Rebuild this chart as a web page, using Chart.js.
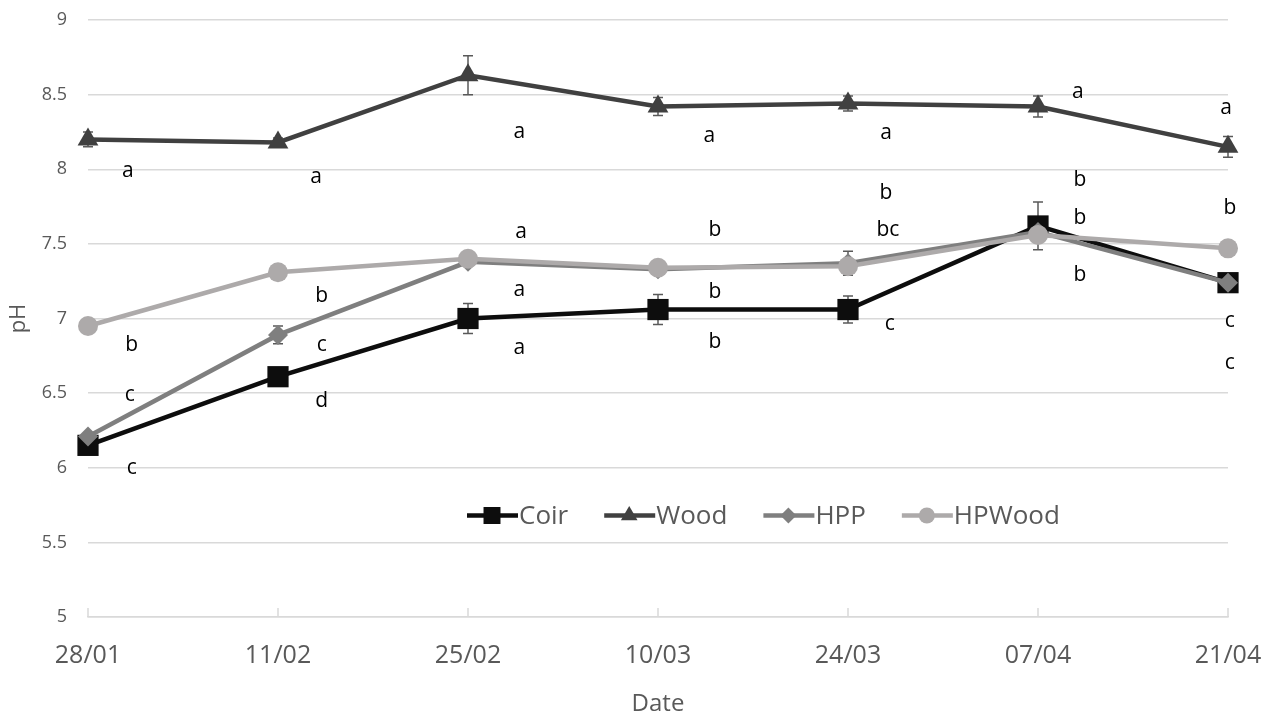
<!DOCTYPE html>
<html>
<head>
<meta charset="utf-8">
<script src="https://cdn.jsdelivr.net/npm/chart.js@4"></script>
<style>
  html, body { margin: 0; padding: 0; background: #fff; }
  #wrap { width: 1277px; height: 712px; }
</style>
</head>
<body>
<div id="wrap"><canvas id="phChart" width="1277" height="712"></canvas></div>
<script>
const fechas = ["28/01", "11/02", "25/02", "10/03", "24/03", "07/04", "21/04"];

const coir   = [6.15, 6.61, 7.00, 7.06, 7.06, 7.62, 7.24];
const wood   = [8.20, 8.18, 8.63, 8.42, 8.44, 8.42, 8.15];
const hpp    = [6.21, 6.89, 7.38, 7.33, 7.37, 7.58, 7.24];
const hpwood = [6.95, 7.31, 7.40, 7.34, 7.35, 7.56, 7.47];

const coirErr   = [0.03, 0.03, 0.10, 0.10, 0.09, 0.16, 0.03];
const woodErr   = [0.05, 0.03, 0.13, 0.06, 0.05, 0.07, 0.07];
const hppErr    = [0.02, 0.06, 0.02, 0.02, 0.08, 0.03, 0.02];
const hpwoodErr = [0.02, 0.02, 0.02, 0.02, 0.02, 0.02, 0.02];

const yTicks = [5, 5.5, 6, 6.5, 7, 7.5, 8, 8.5, 9];

// letras de significancia: texto, posición en índice de fecha, valor de pH
const letras  = ["a","b","c","c",  "a","b","c","d",  "a","a","a","a",  "a","b","b","b",
                 "a","b","bc","c", "a","b","b","b",  "a","b","c","c"];
const letrasX = [0.21,0.23,0.22,0.23, 1.20,1.23,1.23,1.23, 2.27,2.28,2.27,2.27, 3.27,3.30,3.30,3.30,
                 4.20,4.20,4.21,4.22, 5.21,5.22,5.22,5.22, 5.99,6.01,6.01,6.01];
const letrasY = [7.99,6.82,6.49,6.00, 7.95,7.15,6.82,6.45, 8.25,7.58,7.19,6.80, 8.22,7.59,7.18,6.84,
                 8.24,7.84,7.59,6.96, 8.52,7.93,7.67,7.29, 8.41,7.74,6.98,6.70];

const FONT = "'Open Sans', 'Liberation Sans', sans-serif";
const GRIS_TXT = "#595959";

const series = [
  { label: "Coir",   data: coir,   err: coirErr,   color: "#0d0d0d", style: "rect",     radius: 15, order: 4 },
  { label: "Wood",   data: wood,   err: woodErr,   color: "#404040", style: "triangle", radius: 12, order: 3 },
  { label: "HPP",    data: hpp,    err: hppErr,    color: "#7f7f7f", style: "rectRot",  radius: 10, order: 2 },
  { label: "HPWood", data: hpwood, err: hpwoodErr, color: "#adaaaa", style: "circle",   radius: 10, order: 1 }
];

const errorBars = {
  id: "errorBars",
  beforeDatasetsDraw(chart) {
    const { ctx, scales: { x, y } } = chart;
    ctx.save();
    ctx.strokeStyle = "#595959";
    ctx.lineWidth = 1.5;
    series.forEach(s => {
      s.data.forEach((v, i) => {
        const px = x.getPixelForValue(i);
        const top = y.getPixelForValue(v + s.err[i]);
        const bot = y.getPixelForValue(v - s.err[i]);
        ctx.beginPath();
        ctx.moveTo(px, top); ctx.lineTo(px, bot);
        ctx.moveTo(px - 5, top); ctx.lineTo(px + 5, top);
        ctx.moveTo(px - 5, bot); ctx.lineTo(px + 5, bot);
        ctx.stroke();
      });
    });
    // marcas del eje x hacia arriba
    ctx.strokeStyle = "#d9d9d9";
    fechas.forEach((f, i) => {
      const px = x.getPixelForValue(i);
      ctx.beginPath();
      ctx.moveTo(px, y.bottom); ctx.lineTo(px, y.bottom - 9);
      ctx.stroke();
    });
    ctx.restore();
  }
};

const extras = {
  id: "extras",
  afterDraw(chart) {
    const { ctx, scales: { x, y } } = chart;
    ctx.save();
    // letras
    ctx.fillStyle = "#000";
    ctx.font = "21px " + FONT;
    ctx.textAlign = "center";
    ctx.textBaseline = "middle";
    letras.forEach((t, i) => {
      ctx.fillText(t, x.getPixelForValue(letrasX[i]), y.getPixelForValue(letrasY[i]));
    });

    // leyenda dentro del área
    const ly = y.getPixelForValue(5.68);
    let lx = 467;
    ctx.font = "26px " + FONT;
    ctx.textAlign = "left";
    series.forEach(s => {
      ctx.strokeStyle = s.color;
      ctx.lineWidth = 4.5;
      ctx.beginPath();
      ctx.moveTo(lx, ly); ctx.lineTo(lx + 51, ly);
      ctx.stroke();
      ctx.fillStyle = s.color;
      Chart.helpers.drawPoint(ctx, { pointStyle: s.style, radius: s.radius * 0.8, borderWidth: 0 }, lx + 25, ly);
      ctx.fillStyle = GRIS_TXT;
      ctx.fillText(s.label, lx + 52, ly + 1);
      lx += 52 + ctx.measureText(s.label).width + 36;
    });
    ctx.restore();
  }
};

const ctx = document.getElementById("phChart").getContext("2d");
new Chart(ctx, {
  type: "line",
  data: {
    labels: fechas,
    datasets: series.map(s => ({
      label: s.label,
      data: s.data,
      borderColor: s.color,
      backgroundColor: s.color,
      pointBackgroundColor: s.color,
      pointBorderColor: s.color,
      pointBorderWidth: 0,
      pointStyle: s.style,
      pointRadius: s.radius,
      borderWidth: 4.5,
      tension: 0,
      order: s.order
    }))
  },
  options: {
    responsive: false,
    animation: false,
    layout: { padding: { top: 20, right: 49, left: 0, bottom: 0 } },
    plugins: {
      legend: { display: false },
      tooltip: { enabled: false }
    },
    scales: {
      x: {
        offset: false,
        grid: { display: true, drawOnChartArea: false, drawTicks: true, tickLength: 22, tickColor: "rgba(0,0,0,0)" },
        border: { color: "#d9d9d9", width: 1.5 },
        ticks: { color: GRIS_TXT, font: { family: FONT, size: 25 }, padding: 2, maxRotation: 0 },
        title: { display: true, text: "Date", color: GRIS_TXT, font: { family: FONT, size: 24 }, padding: { top: 0, bottom: -7 } },
        afterFit(scale) { scale.height = 95; }
      },
      y: {
        min: 5,
        max: 9,
        afterBuildTicks(scale) { scale.ticks = yTicks.map(v => ({ value: v })); },
        grid: { color: "#d9d9d9", lineWidth: 1.5, drawTicks: false },
        border: { display: false },
        ticks: {
          color: GRIS_TXT, font: { family: FONT, size: 18 }, padding: 21,
          callback: v => String(v)
        },
        title: { display: true, text: "pH", color: GRIS_TXT, font: { family: FONT, size: 22 }, padding: { top: 6, bottom: 6 } },
        afterFit(scale) {
          scale.width = 88;
          scale.paddingTop = 10;
          scale.paddingBottom = 10;
        }
      }
    }
  },
  plugins: [errorBars, extras]
});
</script>
</body>
</html>
